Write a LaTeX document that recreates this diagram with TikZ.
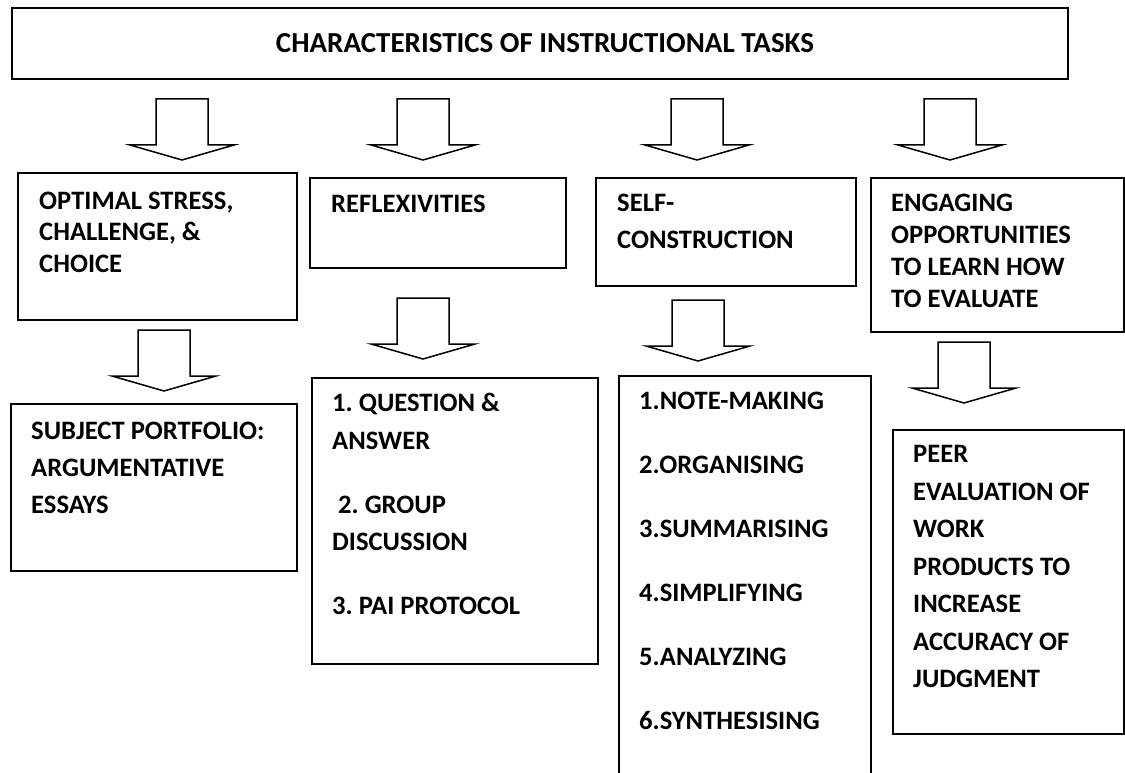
\documentclass[tikz,border=0pt]{standalone}
\usepackage{fontspec}
\setmainfont{Carlito}
\frenchspacing
\begin{document}
\begin{tikzpicture}[x=1pt,y=-1pt,
  box/.style={draw, line width=2pt, rectangle, inner sep=0pt, anchor=north west},
  txt/.style={anchor=north west, inner sep=0pt, align=left,
    font=\bfseries\fontsize{26.6}{#1}\selectfont,
    execute at begin node=\rule{0pt}{20pt}},
  blockarrow/.pic={
    \draw[line width=1.5pt, fill=white, line join=miter]
      (-26,0) -- (-26,46) -- (-52,46) -- (0,61) -- (52,46) -- (26,46) -- (26,0) -- cycle;}
]
\useasboundingbox (0,0) rectangle (1125,773);

% heading
\node[box, minimum width=1056, minimum height=71,
      font=\bfseries\fontsize{29}{34}\selectfont] (title) at (11,7)
  {\hspace*{10pt}CHARACTERISTICS OF INSTRUCTIONAL TASKS};

% first row of characteristics
\node[box, minimum width=279, minimum height=147] (opt)  at (17,172)  {};
\node[box, minimum width=256, minimum height=90]  (refl) at (309,177) {};
\node[box, minimum width=260, minimum height=108] (self) at (595,177) {};
\node[box, minimum width=253, minimum height=154] (eng)  at (870,177) {};

\node[txt=31.5] (optT)  at (39,191.4)  {OPTIMAL STRESS,\\CHALLENGE, \&\\CHOICE};
\node[txt=31.5] (reflT) at (331,192.4) {REFLEXIVITIES};
\node[txt=37]   (selfT) at (617,193.4) {SELF-\\CONSTRUCTION};
\node[txt=32.3] (engT)  at (891,193.4) {ENGAGING\\OPPORTUNITIES\\TO LEARN HOW\\TO EVALUATE};

% second row: activities
\node[box, minimum width=286, minimum height=167] (subj)  at (10,403)  {};
\node[box, minimum width=286, minimum height=286] (quest) at (311,377) {};
\node[box, minimum width=252, minimum height=420] (note)  at (618,375) {};
\node[box, minimum width=231, minimum height=304] (peer)  at (892,429) {};

\node[txt=37]   (subjT)  at (31,421.4)  {SUBJECT PORTFOLIO:\\ARGUMENTATIVE\\ESSAYS};
\node[txt=37.5] (questT) at (332,393.4) {1. QUESTION \&\\ANSWER\\[26.5pt]\hspace*{6pt}2. GROUP\\DISCUSSION\\[26.5pt]3. PAI PROTOCOL};
\node[txt=64]   (noteT)  at (639,391.4) {1.NOTE-MAKING\\2.ORGANISING\\3.SUMMARISING\\4.SIMPLIFYING\\5.ANALYZING\\6.SYNTHESISING};
\node[txt=37.5] (peerT)  at (913,445.4) {PEER\\EVALUATION OF\\WORK\\PRODUCTS TO\\INCREASE\\ACCURACY OF\\JUDGMENT};

% block arrows from the heading
\pic (a1) at (182,99) {blockarrow};
\pic (a2) at (423,99) {blockarrow};
\pic (a3) at (697,99) {blockarrow};
\pic (a4) at (950,99) {blockarrow};

% block arrows down to the activities
\pic (b1) at (164,330) {blockarrow};
\pic (b2) at (423,298) {blockarrow};
\pic (b3) at (698,300) {blockarrow};
\pic (b4) at (964,342) {blockarrow};
\end{tikzpicture}
\end{document}
